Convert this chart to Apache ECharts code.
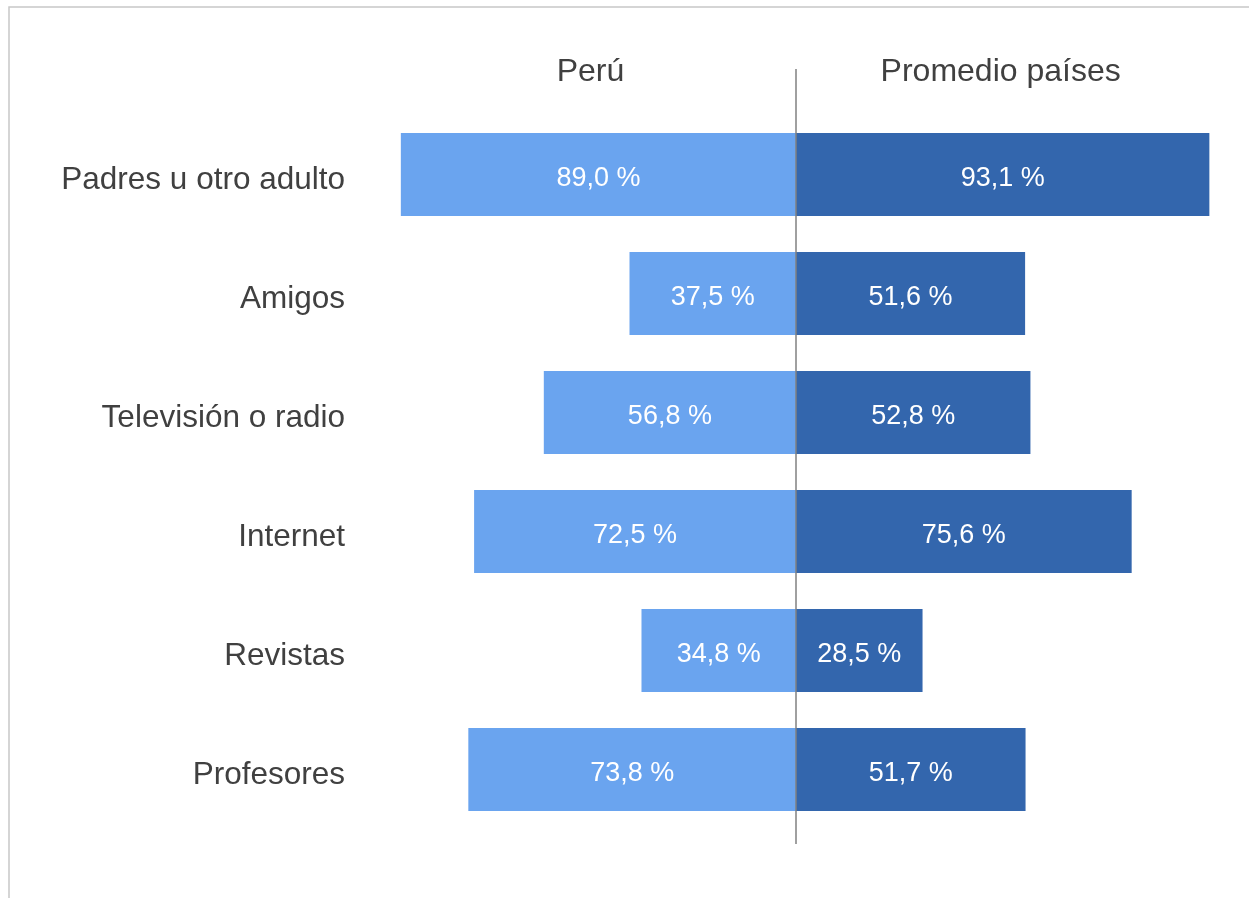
<!DOCTYPE html>
<html>
<head>
<meta charset="utf-8">
<script src="https://cdn.jsdelivr.net/npm/echarts@6/dist/echarts.min.js"></script>
<style>
  html, body { margin: 0; padding: 0; background: #fff; }
  #chart { width: 1249px; height: 898px; }
</style>
</head>
<body>
<div id="chart"></div>
<script>
const categories = ["Padres u otro adulto", "Amigos", "Televisión o radio", "Internet", "Revistas", "Profesores"];
const peru = [89.0, 37.5, 56.8, 72.5, 34.8, 73.8];
const promedio = [93.1, 51.6, 52.8, 75.6, 28.5, 51.7];
const headers = ["Perú", "Promedio países"];

const font = "Liberation Sans, Arial, sans-serif";
const textColor = "#404040";

const fmt = (p) => Math.abs(p.value).toFixed(1).replace(".", ",") + " %";

const chart = echarts.init(document.getElementById("chart"));
chart.setOption({
  animation: false,
  grid: { left: 352, right: 9, top: 115, bottom: 69, containLabel: false },
  xAxis: {
    type: "value",
    min: -100,
    max: 100,
    show: false,
  },
  yAxis: {
    type: "category",
    data: categories,
    inverse: true,
    axisLine: { show: false },
    axisTick: { show: false },
    axisLabel: {
      margin: 7,
      formatter: "{a|{value}}",
      rich: {
        a: { fontSize: 31.5, fontFamily: font, color: textColor, padding: [12, 0, 0, 0] },
      },
    },
  },
  series: [
    {
      name: headers[0],
      type: "bar",
      stack: "total",
      barWidth: 83,
      itemStyle: { color: "#6aa4ef" },
      label: { show: true, position: "inside", offset: [0, 4], formatter: fmt, color: "#fff", fontSize: 27, fontFamily: font },
      data: peru.map((v) => -v),
    },
    {
      name: headers[1],
      type: "bar",
      stack: "total",
      barWidth: 83,
      itemStyle: { color: "#3366ad" },
      label: { show: true, position: "inside", offset: [0, 4], formatter: fmt, color: "#fff", fontSize: 27, fontFamily: font },
      data: promedio,
    },
  ],
});

// centre line and column headers, placed from the value axis
const x0 = chart.convertToPixel({ xAxisIndex: 0 }, 0);
const xL = chart.convertToPixel({ xAxisIndex: 0 }, -46.3);
const xR = chart.convertToPixel({ xAxisIndex: 0 }, 46.1);
chart.setOption({
  graphic: [
    {
      type: "rect",
      shape: { x: 9, y: 7, width: 1400, height: 1000 },
      style: { fill: "none", stroke: "#c8c8c8", lineWidth: 1.5 },
      silent: true,
    },
    {
      type: "line",
      shape: { x1: x0, y1: 69, x2: x0, y2: 844 },
      style: { stroke: "#808080", lineWidth: 1.5 },
      z: 10,
    },
    {
      type: "text",
      x: xL,
      y: 72,
      style: { text: headers[0], align: "center", verticalAlign: "middle", fontSize: 32, fontFamily: font, fill: textColor },
    },
    {
      type: "text",
      x: xR,
      y: 72,
      style: { text: headers[1], align: "center", verticalAlign: "middle", fontSize: 32, fontFamily: font, fill: textColor },
    },
  ],
});
</script>
</body>
</html>
